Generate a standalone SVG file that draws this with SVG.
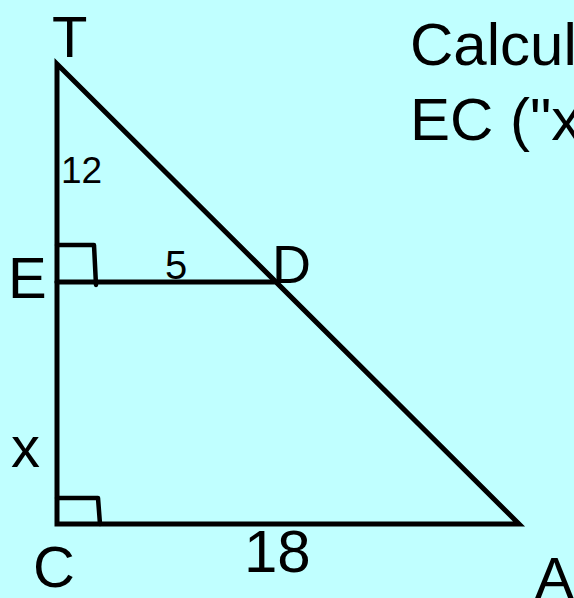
<svg xmlns="http://www.w3.org/2000/svg" width="574" height="598" viewBox="0 0 574 598">
<style>
.ln{fill:none;stroke:#000;stroke-width:5;stroke-linejoin:miter;stroke-linecap:round}
.sq{fill:none;stroke:#000;stroke-width:4.5;stroke-linejoin:round;stroke-linecap:round}
text{font-family:"Liberation Sans",Arial,sans-serif;fill:#000}
.big{font-size:58px}
.q{font-size:60px}
</style>
<rect width="574" height="598" fill="#C0FFFF"/>
<g id="connectors">
<path class="ln" d="M57,64 L519,524 L57,524 Z"/>
<path class="ln" d="M57,282 L274,282"/>
<path class="sq" d="M57,245 L94,245 L96,285"/>
<path class="sq" d="M57,498 L98,498 L100,524"/>
</g>
<g id="T"><text class="big" x="52" y="57">T</text></g>
<g id="E"><text class="big" x="8" y="298">E</text></g>
<g id="D"><text x="272" y="283" font-size="54">D</text></g>
<g id="C"><text class="big" x="33" y="587">C</text></g>
<g id="A"><text class="big" x="535" y="598">A</text></g>
<g id="labels">
<text x="61" y="183" font-size="37">12</text>
<text x="165" y="279" font-size="40">5</text>
<text class="big" x="11" y="467">x</text>
<text x="244" y="572" font-size="60">18</text>
</g>
<g id="question">
<text class="q" x="410" y="65">Calcul</text>
<text class="q" x="410" y="140">EC ("x</text>
</g>
</svg>
